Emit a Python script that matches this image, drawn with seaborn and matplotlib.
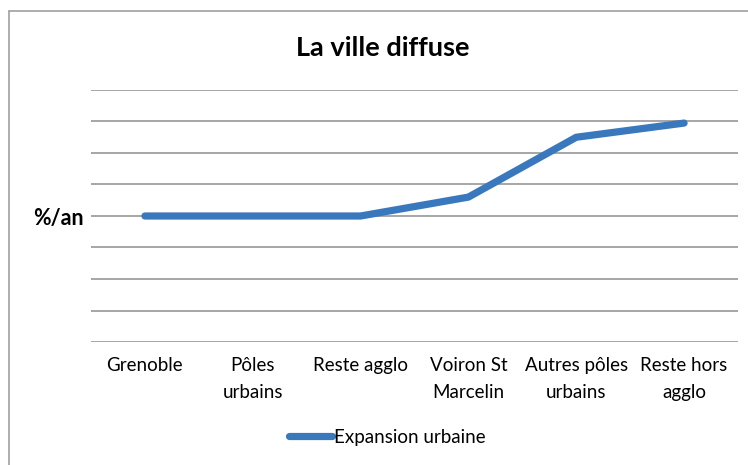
import matplotlib
matplotlib.use("Agg")
import matplotlib.pyplot as plt
from matplotlib.lines import Line2D
import numpy as np
import pandas as pd
import seaborn as sns

# data
categories = ["Grenoble", "Pôles\nurbains", "Reste agglo", "Voiron St\nMarcelin",
              "Autres pôles\nurbains", "Reste hors\nagglo"]
expansion = [0, 0, 0, 0.6, 2.5, 2.95]
series_name = "Expansion urbaine"
title = "La ville diffuse"
y_label_tick = "%/an"

df = pd.DataFrame({"zone": categories, "val": expansion, "serie": series_name})

sns.set_style("white")
plt.rcParams["font.family"] = ["Lato", "DejaVu Sans"]
plt.rcParams["text.color"] = "black"

fig = plt.figure(figsize=(7.48, 4.65), dpi=100)
ax = fig.add_axes([91 / 748, 1 - 342 / 465, (738 - 91) / 748, (342 - 90) / 465])

blue = "#3A78BD"
sns.lineplot(data=df, x="zone", y="val", ax=ax, color=blue, linewidth=5.2,
             sort=False, legend=False, solid_capstyle="round", solid_joinstyle="round")

ax.set_xlim(-0.5, len(categories) - 0.5)
ax.set_ylim(-4, 4)
ax.set_yticks(np.arange(-4, 5, 1))
ax.set_yticklabels(["" if v != 0 else y_label_tick for v in range(-4, 5)],
                   fontsize=15.5, fontweight="bold", color="black")
ax.set_xticks(range(len(categories)))
ax.set_xticklabels(categories, fontsize=13.5, linespacing=1.7, color="black")
ax.tick_params(axis="x", length=0, pad=11)
ax.tick_params(axis="y", length=0, pad=5.5)
ax.grid(axis="y", color="#A6A6A6", linewidth=1.4)
ax.set_axisbelow(True)
for s in ax.spines.values():
    s.set_visible(False)
ax.set_xlabel("")
ax.set_ylabel("")

fig.text(383 / 748, 1 - 48 / 465, title, ha="center", va="center",
         fontsize=19.5, fontweight="bold", color="black")

handle = Line2D([], [], color=blue, linewidth=5.2, solid_capstyle="round")
fig.legend([handle], [series_name], loc="center", bbox_to_anchor=(387 / 748, 1 - 437 / 465),
           frameon=False, fontsize=13.5, handlelength=2.3, handletextpad=0.1)

# outer chart border
fig.add_artist(Line2D([8.5 / 748, 8.5 / 748], [0, 1 - 11 / 465], color="#A0A0A0", linewidth=1.2))
fig.add_artist(Line2D([8.5 / 748, 1], [1 - 11 / 465, 1 - 11 / 465], color="#A0A0A0", linewidth=1.2))

fig.savefig("out.png", dpi=100)
